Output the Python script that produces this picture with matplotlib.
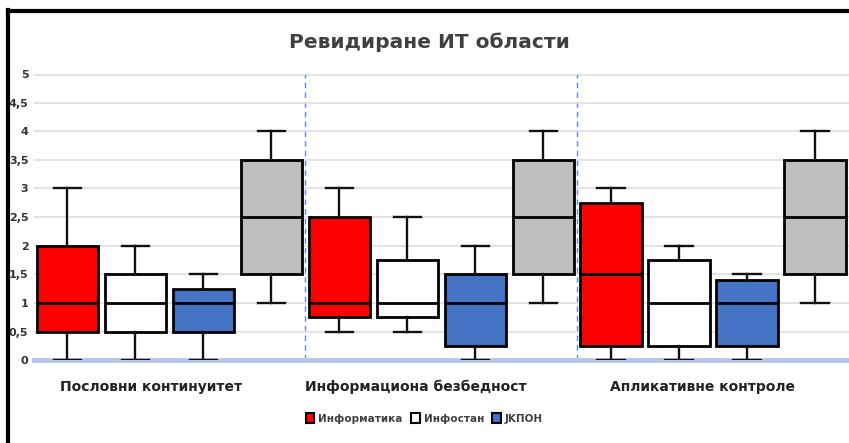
import numpy as np
import matplotlib
matplotlib.use('Agg')
import matplotlib.pyplot as plt
from matplotlib.patches import Patch
from matplotlib.lines import Line2D

plt.rcParams['font.family'] = ['Liberation Sans Narrow', 'DejaVu Sans Condensed', 'DejaVu Sans']

title = 'Ревидиране ИТ области'
categories = ['Пословни континуитет', 'Информациона безбедност', 'Апликативне контроле']
series = ['Информатика', 'Инфостан', 'JKПОН', '']
colors = ['#ff0000', '#ffffff', '#4472c4', '#bfbfbf']

# five-number summaries per category: [Информатика, Инфостан, JKПОН, gray]
mins = [[0, 0, 0, 1], [0.5, 0.5, 0, 1], [0, 0, 0, 1]]
q1s = [[0.5, 0.5, 0.5, 1.5], [0.75, 0.75, 0.25, 1.5], [0.25, 0.25, 0.25, 1.5]]
meds = [[1, 1, 1, 2.5], [1, 1, 1, 2.5], [1.5, 1, 1, 2.5]]
q3s = [[2, 1.5, 1.25, 3.5], [2.5, 1.75, 1.5, 3.5], [2.75, 1.75, 1.4, 3.5]]
maxs = [[3, 2, 1.5, 4], [3, 2.5, 2, 4], [3, 2, 1.5, 4]]

yticks = [0, 0.5, 1, 1.5, 2, 2.5, 3, 3.5, 4, 4.5, 5]
ytick_labels = ['0', '0,5', '1', '1,5', '2', '2,5', '3', '3,5', '4', '4,5', '5']

fig = plt.figure(figsize=(8.49, 4.43), dpi=100)
ax = fig.add_axes([0.040, 0.187, 0.960, 0.646])

stats, pos, fills = [], [], []
for g in range(3):
    for s in range(4):
        stats.append(dict(whislo=mins[g][s], q1=q1s[g][s], med=meds[g][s],
                          q3=q3s[g][s], whishi=maxs[g][s], fliers=[]))
        pos.append(g * 4 + s)
        fills.append(colors[s])

bp = ax.bxp(stats, positions=pos, widths=0.9, patch_artist=True, showfliers=False,
            boxprops=dict(edgecolor='black', linewidth=2),
            medianprops=dict(color='black', linewidth=2),
            whiskerprops=dict(color='#111111', linewidth=1.7),
            capprops=dict(color='#111111', linewidth=1.7), capwidths=0.4, zorder=3)
for patch, c in zip(bp['boxes'], fills):
    patch.set_facecolor(c)

for x in [3.5, 7.5]:
    ax.axvline(x, color='#5b8bd6', linestyle=(0, (4, 3)), linewidth=1, zorder=1)

ax.set_xlim(-0.49, 11.5)
ax.set_ylim(0, 5)
ax.set_yticks(yticks)
ax.set_yticklabels(ytick_labels, fontsize=8, fontweight='bold', color='#333333')
ax.set_xticks([1.24, 5.13, 9.35])
ax.set_xticklabels(categories, fontsize=10, fontweight='bold', color='#222222')
ax.tick_params(length=0, pad=4)
ax.tick_params(axis='x', pad=14)
ax.grid(axis='y', color='#e0e0e0', linewidth=1.3, zorder=0)
for sp in ['left', 'right', 'top']:
    ax.spines[sp].set_visible(False)
ax.spines['bottom'].set_color('#b4c7e7')
ax.spines['bottom'].set_linewidth(3.5)
ax.axhline(5, color='#dae3f3', linewidth=2, zorder=0)

fig.text(0.506, 0.905, title, ha='center', va='center', fontsize=14.5,
         fontweight='bold', color='#404040')

handles = [Patch(facecolor=colors[i], edgecolor='black', linewidth=1.5, label=series[i])
           for i in range(3)]
fig.legend(handles=handles, loc='center', bbox_to_anchor=(0.5, 0.055), ncol=3,
           frameon=False, handlelength=0.8, handleheight=1.1,
           handletextpad=0.4, columnspacing=0.8, labelcolor='#404040',
           prop=dict(weight='bold', size=7.5))

# outer frame visible on left and top
fig.add_artist(Line2D([0.009, 0.009], [0, 0.977], color='black', linewidth=3,
                      transform=fig.transFigure))
fig.add_artist(Line2D([0.009, 1], [0.975, 0.975], color='black', linewidth=3,
                      transform=fig.transFigure))

fig.savefig('out.png', dpi=100)
